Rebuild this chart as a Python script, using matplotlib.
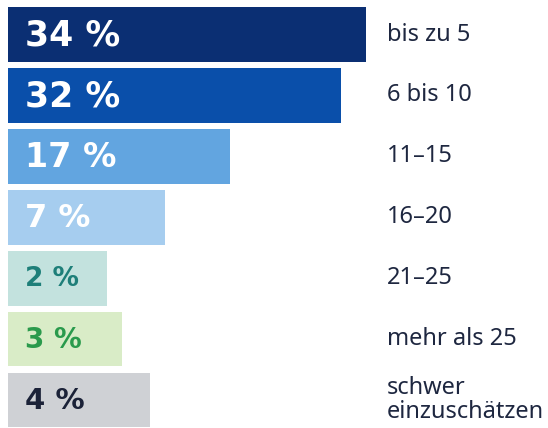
import matplotlib
matplotlib.use("Agg")
import matplotlib.pyplot as plt

# Data
categories = ["bis zu 5", "6 bis 10", "11–15", "16–20", "21–25", "mehr als 25", "schwer\neinzuschätzen"]
percent = [34, 32, 17, 7, 2, 3, 4]
# drawn bar lengths (bars in the original are not to scale with the labels)
bar_lengths = [34, 31.6, 21.1, 14.9, 9.4, 10.8, 13.5]

bar_colors = ["#0b2f73", "#0a4faa", "#62a5e0", "#a6cdef", "#c3e2de", "#d9ecc7", "#cfd1d5"]
text_colors = ["white", "white", "white", "white", "#1e7f79", "#2a9a4c", "#1b2238"]
text_sizes = [25, 25, 24, 23, 19, 20, 21]

plt.rcParams['font.family'] = ["Noto Sans", "DejaVu Sans"]

fig = plt.figure(figsize=(5.48, 4.28), dpi=100)
ax = fig.add_axes([0, 0, 1, 1])

ypos = list(range(len(categories)))
ax.barh(ypos, bar_lengths, height=0.9, color=bar_colors, left=0)

for y, p, tc, ts in zip(ypos, percent, text_colors, text_sizes):
    ax.text(1.6, y + 0.02, f"{p} %", color=tc, fontsize=ts, fontweight="bold",
            family=["DejaVu Sans"], va="center", ha="left")

for y, cat in zip(ypos, categories):
    ax.text(36.0, y, cat, color="#1e2740", fontsize=17, va="center", ha="left",
            linespacing=0.95)

ax.set_xlim(-0.76, 51.3)
ax.set_ylim(6.46, -0.567)
ax.axis("off")

fig.savefig("out.png", dpi=100, facecolor="white")
